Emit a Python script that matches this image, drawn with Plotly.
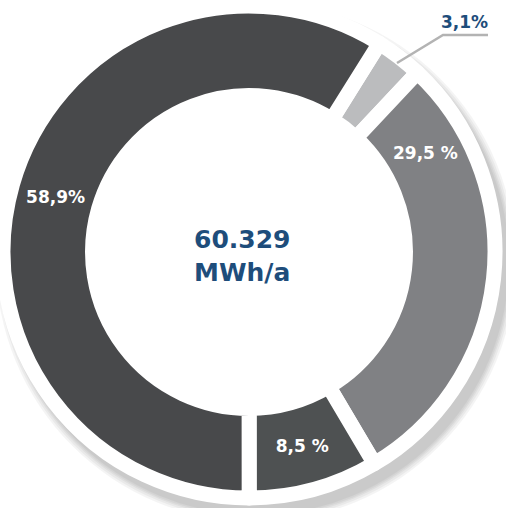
import plotly.graph_objects as go

# ---- data ----
shares = [3.1, 29.5, 8.5, 58.9]
slice_labels = ["3,1%", "29,5 %", "8,5 %", "58,9%"]
inside_text = ["", "", "8,5 %", "58,9%"]
colors = ["#bbbcbe", "#808184", "#4e5152", "#48494b"]
total_value = "60.329"
total_unit = "MWh/a"

W, H = 506, 508
BLUE = "#1e4d7b"
FONT = "DejaVu Sans"

def px(x):
    return x / W

def py(y):
    return 1 - y / H

cx, cy, R = 249, 252, 246

fig = go.Figure()
fig.add_trace(go.Pie(
    values=shares,
    labels=slice_labels,
    text=inside_text,
    textinfo="text",
    textposition="inside",
    insidetextorientation="horizontal",
    textfont=dict(family=FONT, size=17, color="white", weight="bold"),
    marker=dict(colors=colors, line=dict(color="white", width=15)),
    hole=0.636,
    sort=False,
    direction="clockwise",
    rotation=32,
    showlegend=False,
    hoverinfo="label+value",
    domain=dict(x=[px(cx - R), px(cx + R)], y=[py(cy + R), py(cy - R)]),
))

shapes = []
# soft drop shadow (layers of translucent grey circles), then white disc
for r in [260, 258, 256, 254.5, 253]:
    sx, sy = cx + 7, cy + 10
    shapes.append(dict(type="circle", xref="paper", yref="paper",
                       x0=px(sx - r), x1=px(sx + r), y0=py(sy + r), y1=py(sy - r),
                       fillcolor="rgba(0,0,0,0.045)", line=dict(width=0), layer="below"))
rw = 252
shapes.append(dict(type="circle", xref="paper", yref="paper",
                   x0=px(cx - rw), x1=px(cx + rw), y0=py(cy + rw), y1=py(cy - rw),
                   fillcolor="white", line=dict(width=0), layer="below"))
# leader line for the small slice
shapes.append(dict(type="path", xref="paper", yref="paper",
                   path=f"M {px(397)},{py(63)} L {px(443)},{py(35)} L {px(488)},{py(35)}",
                   line=dict(color="#b3b3b3", width=2.5), layer="above"))

annotations = [
    dict(x=px(242), y=py(256), xref="paper", yref="paper",
         xanchor="center", yanchor="middle",
         text=f"{total_value}<br>{total_unit}", showarrow=False,
         font=dict(family=FONT, size=25, color=BLUE, weight="bold"),
         align="center"),
    dict(x=px(425), y=py(153), xref="paper", yref="paper",
         xanchor="center", yanchor="middle",
         text=slice_labels[1], showarrow=False,
         font=dict(family=FONT, size=17, color="white", weight="bold")),
    dict(x=px(464), y=py(22), xref="paper", yref="paper",
         xanchor="center", yanchor="middle",
         text=slice_labels[0], showarrow=False,
         font=dict(family=FONT, size=17, color=BLUE, weight="bold")),
]

fig.update_layout(
    width=W, height=H,
    margin=dict(l=0, r=0, t=0, b=0),
    paper_bgcolor="white", plot_bgcolor="white",
    shapes=shapes, annotations=annotations,
)

fig.write_html("out.html")
